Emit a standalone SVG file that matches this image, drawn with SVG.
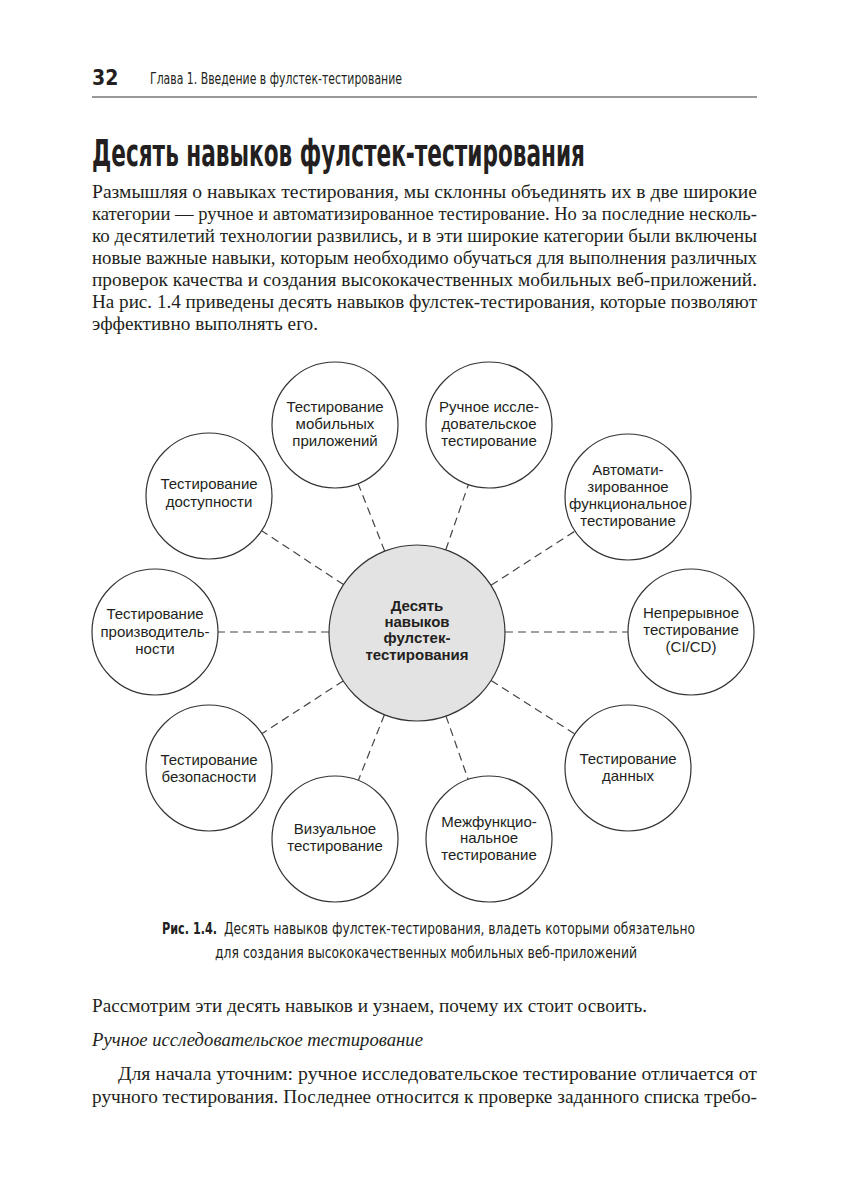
<svg xmlns="http://www.w3.org/2000/svg" width="849" height="1200" viewBox="0 0 849 1200">
<style>
.bg{fill:#ffffff}
.hdr{font-family:"Liberation Sans Narrow","DejaVu Sans Condensed","Liberation Sans",sans-serif;fill:#231f20}
.body{font-family:"Liberation Serif",serif;font-size:18px;fill:#231f20}
.cap{font-family:"Liberation Sans Narrow","DejaVu Sans Condensed","Liberation Sans",sans-serif;font-size:16px;fill:#231f20}
.node circle{fill:#ffffff;stroke:#333333;stroke-width:1.2}
.node text{font-family:"Liberation Sans",Arial,sans-serif;font-size:15px;fill:#231f20;text-anchor:middle}
#center circle{fill:#e3e3e3}
#center text{font-weight:bold}
#connectors line{stroke:#444444;stroke-width:1.2;stroke-dasharray:8 5;fill:none}
</style>
<rect class="bg" x="0" y="0" width="849" height="1200"/>

<g id="header">
<text class="hdr" x="92" y="85" font-size="21" font-weight="bold">32</text>
<text class="hdr" x="150" y="84" font-size="15" textLength="252" lengthAdjust="spacingAndGlyphs">Глава 1. Введение в фулстек-тестирование</text>
<line x1="92" y1="97" x2="757" y2="97" stroke="#777777" stroke-width="1.5"/>
</g>

<text class="hdr" x="92" y="166" font-size="37" font-weight="bold" textLength="493" lengthAdjust="spacingAndGlyphs">Десять навыков фулстек-тестирования</text>

<g id="intro">
<text class="body" x="92" y="198" textLength="665" lengthAdjust="spacingAndGlyphs">Размышляя о навыках тестирования, мы склонны объединять их в две широкие</text>
<text class="body" x="92" y="220" textLength="665" lengthAdjust="spacingAndGlyphs">категории — ручное и автоматизированное тестирование. Но за последние несколь-</text>
<text class="body" x="92" y="242" textLength="665" lengthAdjust="spacingAndGlyphs">ко десятилетий технологии развились, и в эти широкие категории были включены</text>
<text class="body" x="92" y="264" textLength="665" lengthAdjust="spacingAndGlyphs">новые важные навыки, которым необходимо обучаться для выполнения различных</text>
<text class="body" x="92" y="286" textLength="665" lengthAdjust="spacingAndGlyphs">проверок качества и создания высококачественных мобильных веб-приложений.</text>
<text class="body" x="92" y="308" textLength="665" lengthAdjust="spacingAndGlyphs">На рис. 1.4 приведены десять навыков фулстек-тестирования, которые позволяют</text>
<text class="body" x="92" y="330" textLength="226" lengthAdjust="spacingAndGlyphs">эффективно выполнять его.</text>
</g>

<g id="connectors">
<line x1="384.7" y1="551.1" x2="358.1" y2="483.6"/>
<line x1="445.8" y1="549.8" x2="468.4" y2="484.5"/>
<line x1="343.5" y1="584.6" x2="261.6" y2="530.7"/>
<line x1="491.0" y1="585.3" x2="575.0" y2="531.1"/>
<line x1="329" y1="632" x2="218" y2="632"/>
<line x1="505" y1="632" x2="628" y2="632"/>
<line x1="343.2" y1="680.9" x2="261.8" y2="733.7"/>
<line x1="491.1" y1="680.4" x2="574.9" y2="734.0"/>
<line x1="384.4" y1="714.8" x2="358.3" y2="780.5"/>
<line x1="446.0" y1="716.1" x2="468.2" y2="779.5"/>
</g>

<g id="center" class="node">
<circle cx="417" cy="633" r="88"/>
<text x="417" y="611">Десять</text>
<text x="417" y="627">навыков</text>
<text x="417" y="643">фулстек-</text>
<text x="417" y="660">тестирования</text>
</g>

<g id="mobile" class="node">
<circle cx="335" cy="425" r="63"/>
<text x="335" y="412">Тестирование</text>
<text x="335" y="429">мобильных</text>
<text x="335" y="446">приложений</text>
</g>

<g id="manual" class="node">
<circle cx="489" cy="425" r="63"/>
<text x="489" y="412">Ручное иссле-</text>
<text x="489" y="429">довательское</text>
<text x="489" y="446">тестирование</text>
</g>

<g id="accessibility" class="node">
<circle cx="209" cy="496" r="63"/>
<text x="209" y="489">Тестирование</text>
<text x="209" y="507">доступности</text>
</g>

<g id="automated" class="node">
<circle cx="628" cy="497" r="63"/>
<text x="628" y="475">Автомати-</text>
<text x="628" y="492">зированное</text>
<text x="628" y="509">функциональное</text>
<text x="628" y="526">тестирование</text>
</g>

<g id="performance" class="node">
<circle cx="155" cy="632" r="63"/>
<text x="155" y="619">Тестирование</text>
<text x="155" y="637">производитель-</text>
<text x="155" y="654">ности</text>
</g>

<g id="cicd" class="node">
<circle cx="691" cy="632" r="63"/>
<text x="691" y="618">Непрерывное</text>
<text x="691" y="635">тестирование</text>
<text x="691" y="652">(CI/CD)</text>
</g>

<g id="security" class="node">
<circle cx="209" cy="768" r="63"/>
<text x="209" y="765">Тестирование</text>
<text x="209" y="782">безопасности</text>
</g>

<g id="data" class="node">
<circle cx="628" cy="768" r="63"/>
<text x="628" y="764">Тестирование</text>
<text x="628" y="781">данных</text>
</g>

<g id="visual" class="node">
<circle cx="335" cy="839" r="63"/>
<text x="335" y="834">Визуальное</text>
<text x="335" y="851">тестирование</text>
</g>

<g id="crossfunctional" class="node">
<circle cx="489" cy="839" r="63"/>
<text x="489" y="827">Межфункцио-</text>
<text x="489" y="843">нальное</text>
<text x="489" y="860">тестирование</text>
</g>

<g id="caption">
<text class="cap" transform="translate(162 934) scale(0.78 1)" x="0" y="0" font-weight="bold">Рис. 1.4.</text>
<text class="cap" x="224" y="934" textLength="471" lengthAdjust="spacingAndGlyphs">Десять навыков фулстек-тестирования, владеть которыми обязательно</text>
<text class="cap" x="215" y="958" textLength="422" lengthAdjust="spacingAndGlyphs">для создания высококачественных мобильных веб-приложений</text>
</g>

<g id="after">
<text class="body" x="92" y="1012" textLength="555" lengthAdjust="spacingAndGlyphs">Рассмотрим эти десять навыков и узнаем, почему их стоит освоить.</text>
<text class="body" x="92" y="1046" font-style="italic" textLength="331" lengthAdjust="spacingAndGlyphs">Ручное исследовательское тестирование</text>
<text class="body" x="118" y="1080" textLength="639" lengthAdjust="spacingAndGlyphs">Для начала уточним: ручное исследовательское тестирование отличается от</text>
<text class="body" x="92" y="1103" textLength="665" lengthAdjust="spacingAndGlyphs">ручного тестирования. Последнее относится к проверке заданного списка требо-</text>
</g>
</svg>
